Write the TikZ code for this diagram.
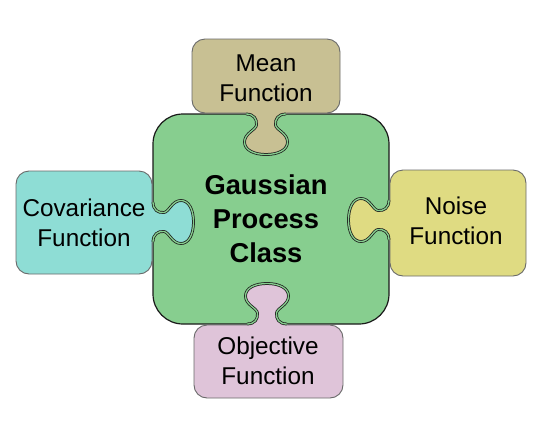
\documentclass[tikz,border=0pt]{standalone}
\usepackage{fontspec}
\setmainfont{Liberation Sans}
\definecolor{gpgreen}{HTML}{87CE8F}
\definecolor{meantan}{HTML}{C8C093}
\definecolor{covcyan}{HTML}{8EDDD5}
\definecolor{noiseyel}{HTML}{DFDB82}
\definecolor{objpink}{HTML}{DFC4D9}
\definecolor{boxgray}{HTML}{6A6A6A}
\definecolor{gpline}{HTML}{1A1A1A}
\tikzset{
  tabbox/.style={draw=boxgray, line width=0.9pt, rounded corners=13pt},
  knobline/.style={draw=gpline, line width=0.75pt, double=gpgreen, double distance=1.3pt},
  lbl/.style={align=center, font=\fontsize{24.3}{30}\selectfont, inner sep=0pt},
  mainlbl/.style={align=center, font=\bfseries\fontsize{27.3}{34}\selectfont, inner sep=0pt}
}
\newcommand{\tabknob}[4]{%
  \begin{scope}[shift={(#1,#2)}, rotate=#3]
    \fill[#4] (-20,-2.5) -- (-20,0) .. controls (-12,0) and (-9,5) .. (-9.5,11)
      .. controls (-10,16) and (-21.5,19) .. (-21.5,28)
      .. controls (-21.5,36) and (-12,40.5) .. (0,40.5)
      .. controls (12,40.5) and (21.5,36) .. (21.5,28)
      .. controls (21.5,19) and (10,16) .. (9.5,11)
      .. controls (9,5) and (12,0) .. (20,0) -- (20,-2.5) -- cycle;
    \draw[knobline] (-20,0) .. controls (-12,0) and (-9,5) .. (-9.5,11)
      .. controls (-10,16) and (-21.5,19) .. (-21.5,28)
      .. controls (-21.5,36) and (-12,40.5) .. (0,40.5)
      .. controls (12,40.5) and (21.5,36) .. (21.5,28)
      .. controls (21.5,19) and (10,16) .. (9.5,11)
      .. controls (9,5) and (12,0) .. (20,0);
  \end{scope}}
\begin{document}
\begin{tikzpicture}[x=1pt, y=-1pt]
\useasboundingbox (0,0) rectangle (550,448);
% main green square
\filldraw[fill=gpgreen, draw=gpline, line width=1.2pt, rounded corners=30pt] (153,114) rectangle (389,324);
% tab boxes
\filldraw[tabbox, fill=meantan] (192,39) rectangle (340,113);
\filldraw[tabbox, fill=covcyan] (16,171) rectangle (152,274);
\filldraw[tabbox, fill=noiseyel] (390,170) rectangle (526,276);
\filldraw[tabbox, fill=objpink] (194,325) rectangle (343,398);
% knobs
\tabknob{266}{114}{0}{meantan}
\tabknob{153}{222}{90}{covcyan}
\tabknob{389}{220}{-90}{noiseyel}
\tabknob{267}{324}{180}{objpink}
% labels
\node[mainlbl] (gp) at (266,218.5) {Gaussian\\Process\\Class};
\node[lbl] (mean) at (266,78.5) {Mean\\Function};
\node[lbl] (cov) at (84,223) {Covariance\\Function};
\node[lbl] (noise) at (456,220.5) {Noise\\Function};
\node[lbl] (obj) at (268,361) {Objective\\Function};
\end{tikzpicture}
\end{document}
